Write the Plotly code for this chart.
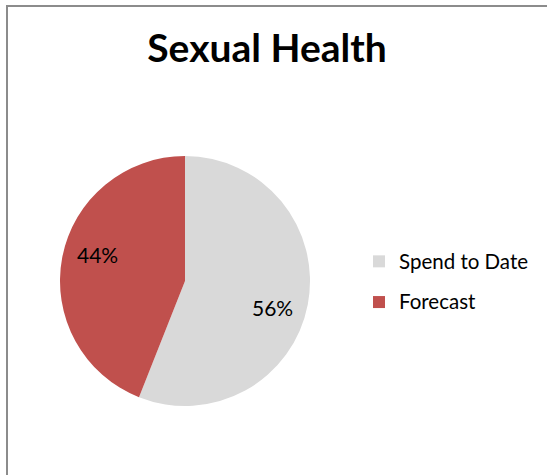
import math
import plotly.graph_objects as go

# Budget split for the Sexual Health programme
labels = ["Spend to Date", "Forecast"]
values = [56, 44]
colors = ["#d9d9d9", "#c0504d"]

W, H = 547, 475

# Pie placement (pixel box converted to paper fractions)
cx, cy, r = 185, 281, 125
dom_x = [(cx - r) / W, (cx + r) / W]
dom_y = [1 - (cy + r) / H, 1 - (cy - r) / H]

# Percentage labels placed inside each slice, along its bisector
total = sum(values)
label_annotations = []
start = 0.0
for v in values:
    frac = v / total
    mid = (start + frac / 2) * 360 + 6  # degrees clockwise from 12 o'clock
    rad = math.radians(mid)
    lx = cx + 0.73 * r * math.sin(rad)
    ly = cy - 0.73 * r * math.cos(rad)
    label_annotations.append(dict(
        x=lx / W, y=1 - ly / H, xref="paper", yref="paper",
        text=f"{round(frac * 100)}%", showarrow=False,
        xanchor="center", yanchor="middle",
        font=dict(family="Lato", size=21, color="#000000"),
    ))
    start += frac

fig = go.Figure(
    go.Pie(
        labels=[f'<span style="font-size:20.5px;baseline-shift:4px">{t}</span>'
                for t in labels],
        values=values,
        marker=dict(colors=colors, line=dict(width=0)),
        sort=False,
        direction="clockwise",
        rotation=0,
        textinfo="none",
        domain=dict(x=dom_x, y=dom_y),
        hovertemplate="%{label}: %{percent}<extra></extra>",
    )
)

fig.update_layout(
    width=W,
    height=H,
    margin=dict(l=0, r=0, t=0, b=0),
    paper_bgcolor="white",
    plot_bgcolor="white",
    title=dict(
        text="<b>Sexual Health</b>",
        font=dict(family="Lato", size=39, color="#000000"),
        x=267 / W,
        xanchor="center",
        y=1 - 48 / H,
        yanchor="middle",
    ),
    showlegend=True,
    legend=dict(
        x=359 / W,
        xanchor="left",
        y=1 - 282 / H,
        yanchor="middle",
        font=dict(family="Lato", size=29, color="#000000"),
        itemwidth=30,
        bgcolor="rgba(0,0,0,0)",
    ),
    annotations=label_annotations,
    shapes=[
        # chart frame: left and top edges
        dict(type="line", xref="paper", yref="paper",
             x0=7 / W, x1=7 / W, y0=-0.05, y1=1 - 5.5 / H,
             line=dict(color="#8c8c8c", width=2)),
        dict(type="line", xref="paper", yref="paper",
             x0=6 / W, x1=1.05, y0=1 - 6 / H, y1=1 - 6 / H,
             line=dict(color="#8c8c8c", width=2)),
    ],
)

fig.write_html("out.html")
